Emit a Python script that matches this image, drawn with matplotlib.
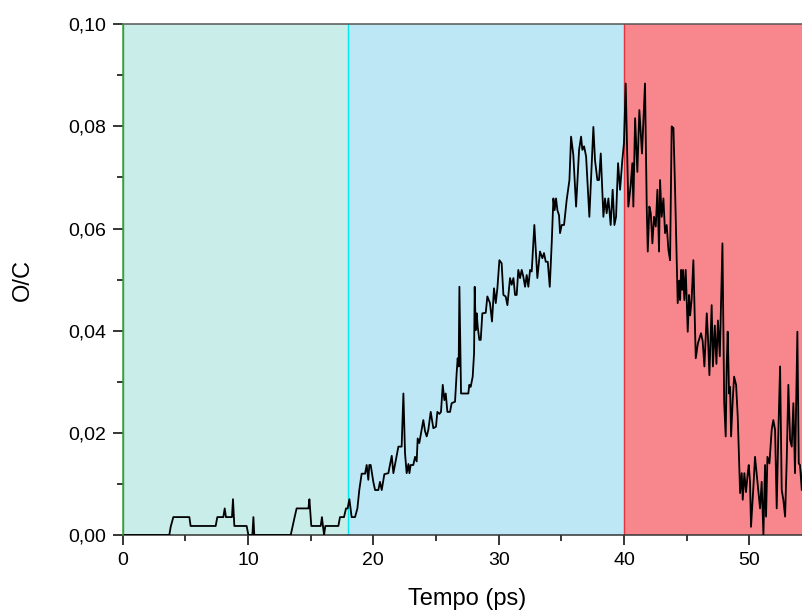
import matplotlib
matplotlib.use("Agg")
import matplotlib.pyplot as plt
from matplotlib.ticker import MultipleLocator, FuncFormatter

# O/C ratio along the trajectory (time in ps)
tempo = [
    0.0, 3.72, 3.83, 4.04, 5.32, 5.42, 7.42, 7.55, 8.03, 8.14, 8.24, 8.72, 8.80, 8.91,
    9.89, 10.03, 10.35, 10.43, 10.50, 13.41, 13.56, 13.72, 13.88, 14.82, 14.90, 15.05,
    15.80, 15.90, 15.98, 16.07, 16.17, 17.21, 17.34, 17.66, 17.82, 17.95, 18.09, 18.27,
    18.54, 18.73, 18.88, 19.07, 19.34, 19.47, 19.60, 19.68, 19.79, 20.00, 20.14, 20.40,
    20.53, 20.67, 20.88, 21.20, 21.33, 21.47, 21.60, 21.73, 22.00, 22.26, 22.40, 22.53,
    22.66, 22.80, 22.88, 22.98, 23.19, 23.33, 23.46, 23.54, 23.67, 23.86, 23.99, 24.13,
    24.26, 24.39, 24.58, 24.79, 25.00, 25.11, 25.27, 25.40, 25.54, 25.67, 25.78, 25.91,
    26.12, 26.25, 26.52, 26.65, 26.73, 26.81, 26.87, 27.00, 27.58, 27.66, 27.77, 27.93,
    28.04, 28.09, 28.17, 28.25, 28.33, 28.46, 28.57, 28.70, 28.97, 29.10, 29.31, 29.47,
    29.63, 29.77, 29.90, 30.06, 30.24, 30.38, 30.56, 30.70, 30.91, 31.04, 31.18, 31.31,
    31.44, 31.57, 31.71, 31.84, 31.97, 32.11, 32.24, 32.37, 32.51, 32.64, 32.85, 33.09,
    33.30, 33.49, 33.62, 33.76, 33.92, 34.08, 34.24, 34.37, 34.47, 34.58, 34.69, 34.82,
    34.90, 35.03, 35.22, 35.43, 35.65, 35.78, 35.96, 36.18, 36.42, 36.58, 36.68, 36.82,
    36.98, 37.24, 37.56, 37.69, 37.88, 38.01, 38.15, 38.36, 38.49, 38.62, 38.76, 38.94,
    39.10, 39.24, 39.37, 39.53, 39.69, 39.87, 40.00, 40.14, 40.35, 40.54, 40.67, 40.75,
    40.89, 41.07, 41.23, 41.44, 41.68, 41.82, 41.90, 42.03, 42.14, 42.27, 42.40, 42.54,
    42.67, 42.80, 42.88, 43.01, 43.15, 43.28, 43.41, 43.55, 43.68, 43.81, 43.95, 44.08,
    44.29, 44.40, 44.48, 44.56, 44.64, 44.72, 44.82, 44.93, 45.09, 45.20, 45.28, 45.40,
    45.54, 45.73, 45.90, 46.15, 46.28, 46.42, 46.61, 46.70, 46.82, 47.00, 47.10, 47.25,
    47.38, 47.50, 47.65, 47.86, 48.00, 48.12, 48.20, 48.28, 48.39, 48.47, 48.55, 48.68,
    48.79, 48.95, 49.08, 49.27, 49.40, 49.48, 49.61, 49.74, 49.88, 49.96, 50.06, 50.14,
    50.33, 50.46, 50.65, 50.86, 50.99, 51.13, 51.26, 51.34, 51.45, 51.61, 51.79, 51.92,
    52.06, 52.19, 52.32, 52.46, 52.59, 52.72, 52.86, 52.99, 53.12, 53.26, 53.39, 53.52,
    53.65, 53.79, 53.84, 53.95, 54.05, 54.19, 54.29, 54.45,
]
razao_oc = [
    0.0, 0.0, 0.0016, 0.0035, 0.0035, 0.00176, 0.00176, 0.0035, 0.0035, 0.0052, 0.0035, 0.0035, 0.0070, 0.00176,
    0.00176, 0.0, 0.0, 0.0035, 0.0, 0.0, 0.0017, 0.0035, 0.0052, 0.0052, 0.0070, 0.00176,
    0.00176, 0.0035, 0.00176, 0.0, 0.00176, 0.00176, 0.0035, 0.0035, 0.0052, 0.0052, 0.0070, 0.0035,
    0.0035, 0.0052, 0.0088, 0.0120, 0.0120, 0.0137, 0.0108, 0.0137, 0.0137, 0.0104, 0.0088, 0.0088,
    0.0104, 0.0088, 0.0119, 0.0121, 0.0137, 0.0155, 0.0121, 0.0138, 0.0173, 0.0173, 0.0277, 0.0160,
    0.0121, 0.0139, 0.0121, 0.0137, 0.0137, 0.0153, 0.0144, 0.0189, 0.0180, 0.0206, 0.0225, 0.0203,
    0.0193, 0.0206, 0.0241, 0.0209, 0.0212, 0.0241, 0.0237, 0.0241, 0.0294, 0.0264, 0.0277, 0.0241,
    0.0241, 0.0258, 0.0261, 0.0317, 0.0346, 0.0330, 0.0486, 0.0277, 0.0277, 0.0294, 0.0290, 0.0310,
    0.0356, 0.0486, 0.0401, 0.0434, 0.0408, 0.0382, 0.0382, 0.0434, 0.0435, 0.0467, 0.0454, 0.0418,
    0.0483, 0.0454, 0.0483, 0.0538, 0.0532, 0.0470, 0.0467, 0.0450, 0.0503, 0.0490, 0.0503, 0.0470,
    0.0470, 0.0519, 0.0503, 0.0519, 0.0506, 0.0486, 0.0509, 0.0486, 0.0519, 0.0516, 0.0607, 0.0503,
    0.0555, 0.0542, 0.0552, 0.0535, 0.0535, 0.0486, 0.0574, 0.0659, 0.0636, 0.0659, 0.0636, 0.0626,
    0.0591, 0.0607, 0.0607, 0.0656, 0.0695, 0.0780, 0.0744, 0.0643, 0.0754, 0.0780, 0.0754, 0.0761,
    0.0741, 0.0623, 0.0799, 0.0734, 0.0695, 0.0695, 0.0747, 0.0623, 0.0659, 0.0630, 0.0659, 0.0607,
    0.0676, 0.0607, 0.0623, 0.0728, 0.0676, 0.0734, 0.0767, 0.0884, 0.0643, 0.0685, 0.0728, 0.0643,
    0.0816, 0.0711, 0.0832, 0.0747, 0.0884, 0.0640, 0.0555, 0.0643, 0.0630, 0.0571, 0.0623, 0.0604,
    0.0676, 0.0555, 0.0695, 0.0623, 0.0659, 0.0591, 0.0607, 0.0558, 0.0538, 0.0800, 0.0797, 0.0676,
    0.0454, 0.0498, 0.0460, 0.0519, 0.0480, 0.0519, 0.0460, 0.0519, 0.0398, 0.0470, 0.0430, 0.0460,
    0.0538, 0.0346, 0.0375, 0.0395, 0.0380, 0.0330, 0.0434, 0.0390, 0.0313, 0.0450, 0.0330, 0.0410,
    0.0335, 0.0420, 0.0350, 0.0571, 0.0258, 0.0193, 0.0330, 0.0398, 0.0277, 0.0290, 0.0193, 0.0264,
    0.0310, 0.0294, 0.0232, 0.0082, 0.0121, 0.0069, 0.0121, 0.0084, 0.0121, 0.0137, 0.0104, 0.0016,
    0.0094, 0.0153, 0.0104, 0.0052, 0.0104, 0.0, 0.0137, 0.0036, 0.0153, 0.0140, 0.0206, 0.0225,
    0.0206, 0.0052, 0.0199, 0.0330, 0.0088, 0.0069, 0.0036, 0.0147, 0.0294, 0.0186, 0.0173, 0.0258,
    0.0121, 0.0330, 0.0398, 0.0140, 0.0137, 0.0088, 0.0137, 0.0104,
]

# shaded stages of the simulation
faixas_inicio = [0, 18, 40]
faixas_fim = [18, 40, 55]
faixas_cor = ["#C9EDE8", "#BEE7F6", "#F7878D"]
faixas_borda = ["#3A9E3A", "#00E8F0", "#E8323C"]

plt.rcParams["font.family"] = ["Liberation Sans", "DejaVu Sans"]

fig = plt.figure(figsize=(8.03, 6.10), dpi=100)
ax = fig.add_axes([0.1528, 0.1230, 0.8583, 0.8372])

for x0, x1, cor in zip(faixas_inicio, faixas_fim, faixas_cor):
    ax.axvspan(x0, x1, facecolor=cor, edgecolor="none", zorder=0)
for x0, borda in zip(faixas_inicio, faixas_borda):
    ax.axvline(x0, color=borda, lw=1.0, zorder=1)

ax.plot(tempo, razao_oc, color="black", lw=1.3, zorder=3)

ax.set_xlim(0, 55)
ax.set_ylim(0, 0.10)

ax.xaxis.set_major_locator(MultipleLocator(10))
ax.xaxis.set_minor_locator(MultipleLocator(5))
ax.yaxis.set_major_locator(MultipleLocator(0.02))
ax.yaxis.set_minor_locator(MultipleLocator(0.01))
ax.yaxis.set_major_formatter(FuncFormatter(lambda v, p: f"{v:.2f}".replace(".", ",")))
ax.xaxis.set_major_formatter(FuncFormatter(lambda v, p: f"{v:.0f}"))

ax.tick_params(which="major", direction="out", length=7, width=1.1, labelsize=14,
               colors="black", pad=5, top=False, right=False)
ax.tick_params(which="minor", direction="out", length=4, width=1.1,
               top=False, right=False)

ax.spines["left"].set_color(faixas_borda[0])
ax.spines["left"].set_zorder(4)
ax.spines["bottom"].set_color("#333333")
ax.spines["top"].set_color("#555555")
ax.spines["right"].set_visible(False)
for s in ax.spines.values():
    s.set_linewidth(1.1)

ax.set_xlabel("Tempo (ps)", fontsize=17)
ax.xaxis.label.set_va("center")
ax.xaxis.set_label_coords(0.5, -0.125)
ax.set_ylabel("O/C", fontsize=17)
ax.yaxis.label.set_va("center")
ax.yaxis.set_label_coords(-0.1447, 0.5)

fig.savefig("out.png", dpi=100)
